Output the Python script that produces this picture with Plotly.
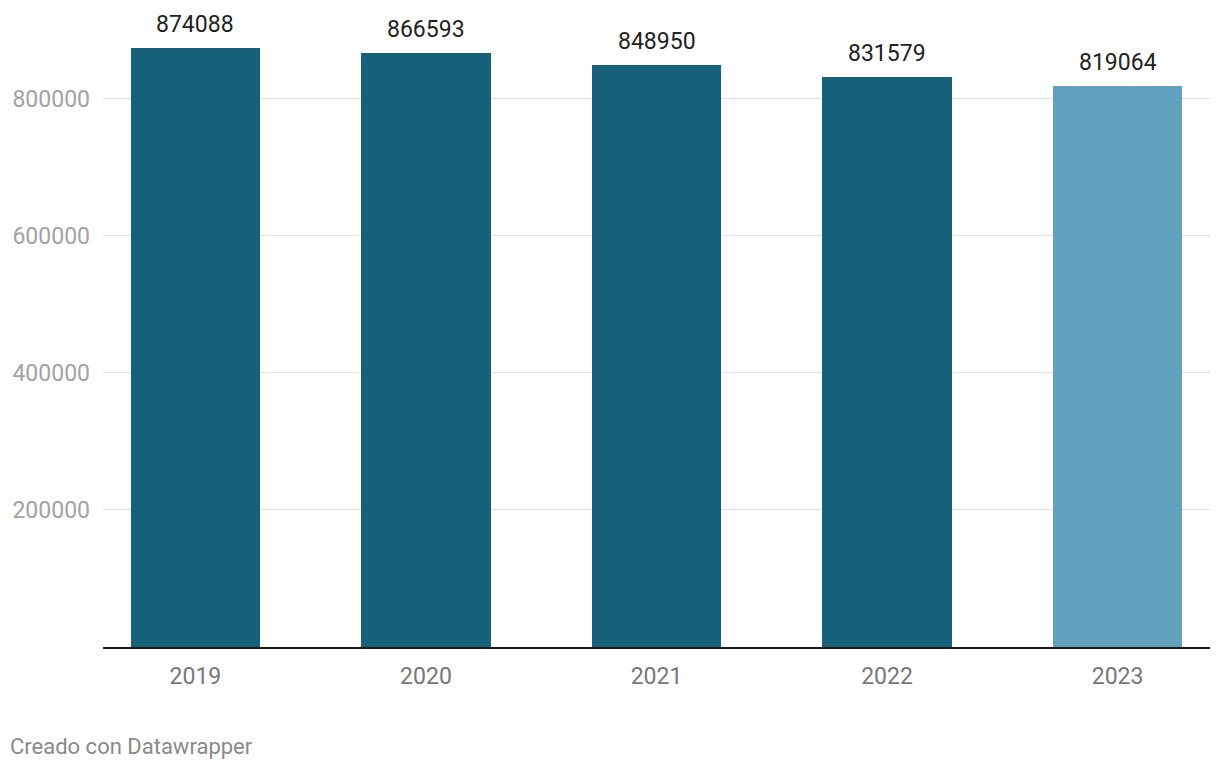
import plotly.graph_objects as go

years = ["2019", "2020", "2021", "2022", "2023"]
values = [874088, 866593, 848950, 831579, 819064]
bar_colors = ["#17607a", "#17607a", "#17607a", "#17607a", "#62a1be"]
y_ticks = [200000, 400000, 600000, 800000]
footer = "Creado con Datawrapper"

OFF = 8  # page body margin
W, H = 1212, 762
ML, MR, MT, MB = 95, 10, 2, 123
plot_w = W - ML - MR
plot_h = H - MT - MB
px_per_unit = 137.1 / 200000
ymax = plot_h / px_per_unit

fig = go.Figure()
fig.add_trace(go.Bar(
    x=years, y=values, marker=dict(color=bar_colors, line=dict(width=0)),
    width=0.56, hoverinfo="skip", showlegend=False,
))

for i, v in enumerate(values):
    fig.add_annotation(x=i, y=v, text=str(v), showarrow=False,
                       yanchor="bottom", yshift=8,
                       font=dict(family="Roboto", size=23, color="#222222"))

fig.add_annotation(xref="paper", yref="paper",
                   x=-(ML + OFF - 8) / plot_w,
                   y=-(746 - (H + OFF - MB)) / plot_h,
                   xanchor="left", yanchor="middle", text=footer, showarrow=False,
                   font=dict(family="Roboto", size=22, color="#8a8a8a"))

fig.update_layout(
    width=W, height=H,
    margin=dict(l=ML, r=MR, t=MT, b=MB),
    paper_bgcolor="white", plot_bgcolor="white",
    font=dict(family="Roboto"),
    bargap=0,
    xaxis=dict(type="category", range=[-0.401, 4.401], showgrid=False,
               showline=True, linecolor="#1a1a1a", linewidth=2,
               ticks="", tickfont=dict(family="Roboto", size=23, color="#777777"),
               ticklabelstandoff=7, zeroline=False, fixedrange=True),
    yaxis=dict(range=[0, ymax], tickvals=y_ticks, ticktext=[str(t) for t in y_ticks],
               showgrid=True, gridcolor="#e0e0e0", gridwidth=1,
               zeroline=False, showline=False, ticks="",
               tickfont=dict(family="Roboto", size=23, color="#a3a3a3"),
               ticklabelstandoff=12, fixedrange=True),
)

fig.write_html("out.html")
